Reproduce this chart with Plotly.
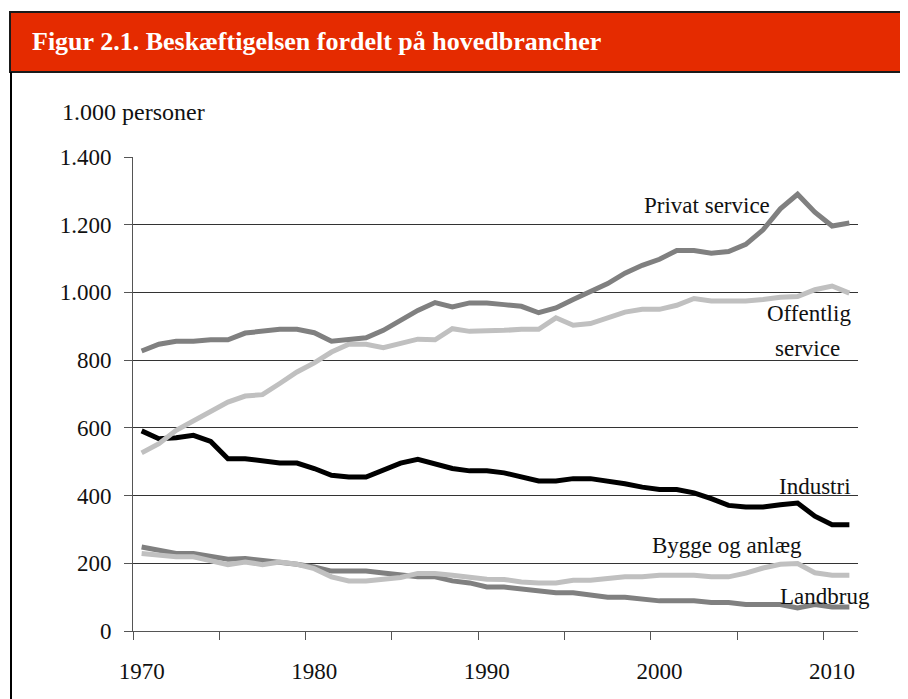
import plotly.graph_objects as go

years = list(range(1970, 2012))

privat_service = [827, 847, 856, 856, 860, 860, 880, 885, 891, 891,
                  881, 856, 860, 866, 888, 918, 947, 970, 957, 969,
                  969, 964, 959, 940, 954, 979, 1001, 1026, 1057, 1080,
                  1098, 1124, 1124, 1116, 1121, 1142, 1185, 1247, 1290, 1237,
                  1196, 1205]

offentlig_service = [526, 553, 593, 622, 647, 676, 694, 698, 731, 765,
                     792, 824, 847, 847, 837, 851, 862, 860, 893, 885,
                     885, 888, 891, 891, 925, 903, 908, 925, 942, 950,
                     950, 962, 982, 975, 975, 975, 979, 986, 988, 1008,
                     1019, 998]

industri = [591, 568, 571, 578, 560, 509, 509, 502, 496, 496,
            480, 460, 455, 455, 475, 496, 507, 494, 480, 473,
            473, 467, 455, 443, 443, 450, 450, 443, 435, 425,
            418, 418, 408, 391, 371, 366, 366, 373, 378, 339,
            314, 314]

bygge_og_anlaeg = [229, 224, 219, 219, 209, 196, 204, 196, 204, 197,
                   184, 160, 148, 148, 153, 158, 170, 170, 165, 160,
                   153, 152, 145, 142, 142, 150, 150, 155, 160, 160,
                   165, 165, 165, 160, 160, 171, 186, 197, 199, 172,
                   165, 165]

landbrug = [248, 238, 229, 229, 221, 212, 214, 209, 204, 197,
            189, 177, 177, 177, 171, 167, 160, 160, 148, 142,
            130, 130, 125, 118, 113, 113, 107, 100, 100, 94,
            89, 89, 89, 84, 84, 78, 78, 78, 68, 78,
            71, 71]

y_tickvals = [0, 200, 400, 600, 800, 1000, 1200, 1400]
y_ticktext = ["0", "200", "400", "600", "800", "1.000", "1.200", "1.400"]
x_labelvals = [1970, 1980, 1990, 2000, 2010]
x_tickmarks = [1969.5, 1974.5, 1979.5, 1984.5, 1989.5, 1994.5, 1999.5, 2004.5, 2009.5]

title_text = "Figur 2.1. Beskæftigelsen fordelt på hovedbrancher"
unit_text = "1.000 personer"

FONT = "Liberation Serif"
DARK = "#808080"
LIGHT = "#c0c0c0"
TXT = "#111111"

fig = go.Figure()
series = [
    ("Landbrug", landbrug, DARK),
    ("Bygge og anlæg", bygge_og_anlaeg, LIGHT),
    ("Industri", industri, "#000000"),
    ("Offentlig service", offentlig_service, LIGHT),
    ("Privat service", privat_service, DARK),
]
for name, vals, col in series:
    fig.add_trace(go.Scatter(x=years, y=vals, mode="lines", name=name,
                             line=dict(color=col, width=5), showlegend=False))

labels = [
    ("Privat service", 2002.75, 1257),
    ("Offentlig", 2008.65, 938),
    ("service", 2008.6, 835),
    ("Industri", 2009.0, 427),
    ("Bygge og anlæg", 2003.9, 253),
    ("Landbrug", 2009.6, 102),
]
for txt, xx, yy in labels:
    fig.add_annotation(x=xx, y=yy, xref="x", yref="y", text=txt, showarrow=False,
                       font=dict(family=FONT, size=23, color=TXT),
                       xanchor="center", yanchor="middle")

# page has an 8px body margin: figure spans page pixels 8..908, 8..699
OFF = 8
W, H = 900, 691
ML, MR, MT, MB = 125, 50, 149, 68
pw, ph = W - ML - MR, H - MT - MB

def px_x(p):
    return (p - OFF - ML) / pw

def px_y(p):
    return (H - MB - (p - OFF)) / ph

# red header
fig.add_shape(type="rect", xref="paper", yref="paper",
              x0=px_x(10), x1=px_x(915), y0=px_y(72), y1=px_y(12),
              fillcolor="#E52B00", line=dict(color="#1a1a1a", width=2), layer="above")
# left frame line
fig.add_shape(type="line", xref="paper", yref="paper",
              x0=px_x(11), x1=px_x(11), y0=px_y(72), y1=px_y(705),
              line=dict(color="#000000", width=2))

fig.add_annotation(xref="paper", yref="paper", x=px_x(30), y=px_y(42),
                   text="<b>" + title_text + "</b>", showarrow=False,
                   xanchor="left", yanchor="middle",
                   font=dict(family=FONT, size=26, color="#ffffff"))
fig.add_annotation(xref="paper", yref="paper", x=px_x(60), y=px_y(112),
                   text=unit_text, showarrow=False, xanchor="left", yanchor="middle",
                   font=dict(family=FONT, size=24, color=TXT))

fig.update_layout(
    width=W, height=H,
    margin=dict(l=ML, r=MR, t=MT, b=MB),
    paper_bgcolor="white", plot_bgcolor="white",
    font=dict(family=FONT, size=23, color=TXT),
)
fig.update_xaxes(range=[1969.5, 2011.5], tickvals=x_labelvals, ticktext=[str(v) for v in x_labelvals],
                 ticks="", showgrid=False, showline=True, linecolor="#555555", linewidth=1,
                 zeroline=False, ticklabelstandoff=19,
                 minor=dict(tickvals=x_tickmarks, ticks="outside", ticklen=8,
                            tickcolor="#555555", tickwidth=1, showgrid=False),
                 tickfont=dict(family=FONT, size=23, color=TXT))
fig.update_yaxes(range=[0, 1400], tickvals=y_tickvals, ticktext=y_ticktext,
                 ticks="outside", ticklen=8, tickcolor="#555555", tickwidth=1,
                 showgrid=True, gridcolor="#333333", gridwidth=1,
                 showline=True, linecolor="#555555", linewidth=1, zeroline=False,
                 ticklabelstandoff=8,
                 tickfont=dict(family=FONT, size=23, color=TXT))

fig.write_html("out.html")
